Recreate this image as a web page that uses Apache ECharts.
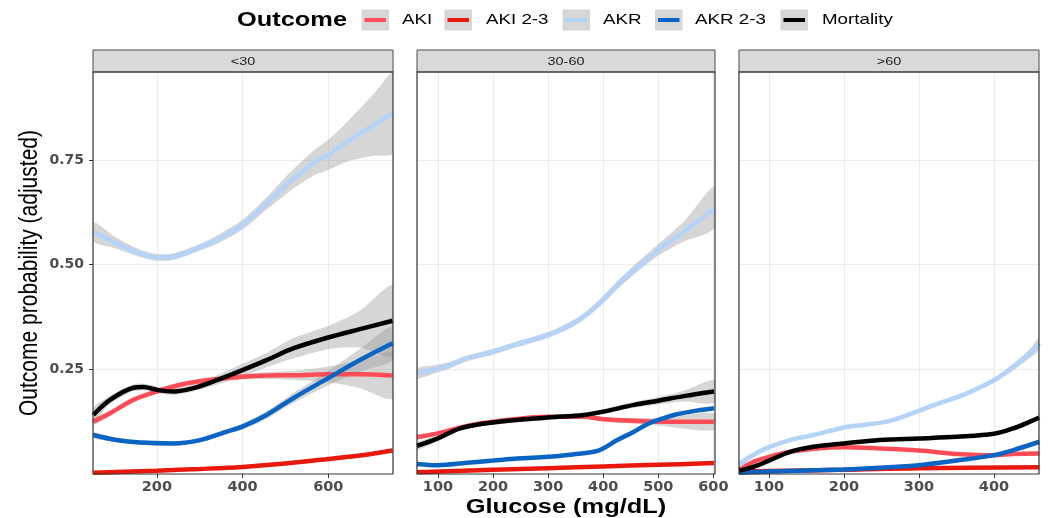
<!DOCTYPE html>
<html>
<head>
<meta charset="utf-8">
<script src="https://cdn.jsdelivr.net/npm/echarts@6/dist/echarts.min.js"></script>
<style>
html,body{margin:0;padding:0;background:#fff;}
#chart{width:1048px;height:518px;}
</style>
</head>
<body>
<div id="chart"></div>
<script>
// ---------- categories ----------
const panelNames = ['<30', '30-60', '>60'];
const outcomes = ['AKI', 'AKI 2-3', 'AKR', 'AKR 2-3', 'Mortality'];
const outcomeColors = ['#ff4d57', '#e8190c', '#b3d3f8', '#0a64c4', '#000000'];

// ---------- axes ----------
const xRange1 = [51, 751];  const xTicks1 = [200, 400, 600];
const xRange2 = [62, 603];  const xTicks2 = [100, 200, 300, 400, 500, 600];
const xRange3 = [60, 460];  const xTicks3 = [100, 200, 300, 400];
const yRange = [0, 0.96];   const yTicks = [0.25, 0.50, 0.75];

// ---------- panel <30 ----------
const p1_AKI_x  = [51.7, 90.7, 145, 199.6, 254, 316, 399.4, 456, 534, 600, 674, 750];
const p1_AKI_y  = [0.125, 0.145, 0.177, 0.197, 0.213, 0.224, 0.232, 0.235, 0.236, 0.238, 0.238, 0.235];
const p1_AKI_lo = [0.117, 0.139, 0.172, 0.192, 0.208, 0.219, 0.226, 0.227, 0.224, 0.219, 0.205, 0.180];
const p1_AKI_hi = [0.133, 0.151, 0.182, 0.202, 0.218, 0.229, 0.238, 0.243, 0.248, 0.257, 0.271, 0.290];

const p1_AKI23_x = [51.7, 200, 300, 400, 500, 600, 700, 750];
const p1_AKI23_y = [0.003, 0.008, 0.012, 0.017, 0.025, 0.036, 0.048, 0.056];

const p1_AKR_x  = [51.7, 106, 160.7, 199.6, 238.4, 285, 339.6, 399.4, 456, 510.7, 565, 600, 650.7, 705, 750];
const p1_AKR_y  = [0.579, 0.551, 0.527, 0.517, 0.519, 0.535, 0.559, 0.595, 0.646, 0.698, 0.742, 0.762, 0.798, 0.833, 0.861];
const p1_AKR_lo = [0.556, 0.538, 0.518, 0.509, 0.511, 0.527, 0.549, 0.583, 0.631, 0.676, 0.712, 0.726, 0.748, 0.760, 0.766];
const p1_AKR_hi = [0.602, 0.564, 0.536, 0.525, 0.527, 0.543, 0.569, 0.607, 0.661, 0.720, 0.772, 0.798, 0.848, 0.906, 0.957];

const p1_AKR23_x  = [51.7, 106, 160.7, 238.4, 301, 363, 399.4, 456, 518, 600, 674, 750];
const p1_AKR23_y  = [0.093, 0.081, 0.075, 0.073, 0.081, 0.101, 0.113, 0.141, 0.181, 0.229, 0.272, 0.312];
const p1_AKR23_lo = [0.086, 0.076, 0.070, 0.068, 0.076, 0.095, 0.106, 0.132, 0.169, 0.212, 0.245, 0.272];
const p1_AKR23_hi = [0.100, 0.086, 0.080, 0.078, 0.086, 0.107, 0.120, 0.150, 0.193, 0.246, 0.299, 0.352];

const p1_MORT_x  = [51.7, 90.7, 145, 168.4, 199.6, 238.4, 285, 339.6, 399.4, 456, 518, 600, 674, 750];
const p1_MORT_y  = [0.141, 0.177, 0.206, 0.208, 0.201, 0.197, 0.205, 0.224, 0.248, 0.272, 0.300, 0.326, 0.346, 0.366];
const p1_MORT_lo = [0.124, 0.167, 0.198, 0.200, 0.193, 0.189, 0.197, 0.213, 0.233, 0.255, 0.276, 0.298, 0.302, 0.282];
const p1_MORT_hi = [0.158, 0.187, 0.214, 0.216, 0.209, 0.205, 0.213, 0.235, 0.263, 0.289, 0.324, 0.354, 0.390, 0.450];

// ---------- panel 30-60 ----------
const p2_AKI_x  = [61.8, 100, 152.7, 200, 300, 364.8, 400, 455.8, 500, 601.2];
const p2_AKI_y  = [0.088, 0.097, 0.115, 0.125, 0.137, 0.137, 0.131, 0.127, 0.125, 0.125];
const p2_AKI_lo = [0.082, 0.092, 0.111, 0.121, 0.133, 0.132, 0.126, 0.120, 0.116, 0.105];
const p2_AKI_hi = [0.094, 0.102, 0.119, 0.129, 0.141, 0.142, 0.136, 0.134, 0.134, 0.145];

const p2_AKI23_x = [61.8, 200, 300, 400, 500, 601.2];
const p2_AKI23_y = [0.004, 0.010, 0.014, 0.018, 0.022, 0.026];

const p2_AKR_x  = [61.8, 100, 122, 152.7, 200, 243.6, 300, 334.5, 364.8, 400, 425.5, 455.8, 500, 546.7, 601.2];
const p2_AKR_y  = [0.240, 0.252, 0.260, 0.276, 0.292, 0.310, 0.332, 0.352, 0.376, 0.416, 0.451, 0.487, 0.535, 0.579, 0.634];
const p2_AKR_lo = [0.228, 0.243, 0.252, 0.269, 0.285, 0.303, 0.325, 0.344, 0.368, 0.407, 0.441, 0.476, 0.521, 0.555, 0.587];
const p2_AKR_hi = [0.252, 0.261, 0.268, 0.283, 0.299, 0.317, 0.339, 0.360, 0.384, 0.425, 0.461, 0.498, 0.549, 0.603, 0.686];

const p2_AKR23_x = [61.8, 100, 152.7, 200, 243.6, 300, 346.7, 383, 400, 425.5, 455.8, 480, 500, 528.5, 558.8, 601.2];
const p2_AKR23_y = [0.024, 0.021, 0.027, 0.032, 0.037, 0.041, 0.047, 0.053, 0.061, 0.081, 0.101, 0.119, 0.129, 0.141, 0.149, 0.157];

const p2_MORT_x  = [61.8, 100, 140.6, 200, 300, 364.8, 400, 455.8, 500, 546.7, 601.2];
const p2_MORT_y  = [0.067, 0.085, 0.109, 0.123, 0.135, 0.141, 0.149, 0.165, 0.175, 0.186, 0.197];
const p2_MORT_lo = [0.058, 0.079, 0.104, 0.118, 0.130, 0.136, 0.143, 0.158, 0.166, 0.173, 0.170];
const p2_MORT_hi = [0.076, 0.091, 0.114, 0.128, 0.140, 0.146, 0.155, 0.172, 0.184, 0.199, 0.224];

// ---------- panel >60 ----------
const p3_AKI_x = [60.4, 79.1, 100, 128, 163.6, 200, 248, 300, 350.2, 400, 425.8, 460.4];
const p3_AKI_y = [0.010, 0.029, 0.041, 0.053, 0.061, 0.064, 0.061, 0.056, 0.048, 0.045, 0.048, 0.049];

const p3_AKI23_x = [60.4, 200, 300, 460.4];
const p3_AKI23_y = [0.006, 0.010, 0.014, 0.016];

const p3_AKR_x  = [60.4, 74.7, 100, 128, 159, 200, 225.8, 256.9, 279, 300, 323.6, 359, 400, 425.8, 448, 460.4];
const p3_AKR_y  = [0.021, 0.041, 0.064, 0.081, 0.093, 0.111, 0.117, 0.125, 0.137, 0.151, 0.167, 0.189, 0.224, 0.256, 0.288, 0.312];
const p3_AKR_lo = [0.012, 0.035, 0.059, 0.077, 0.089, 0.107, 0.113, 0.121, 0.133, 0.146, 0.162, 0.184, 0.218, 0.248, 0.277, 0.297];
const p3_AKR_hi = [0.030, 0.047, 0.069, 0.085, 0.097, 0.115, 0.121, 0.129, 0.141, 0.156, 0.172, 0.194, 0.230, 0.264, 0.299, 0.327];

const p3_AKR23_x = [60.4, 100, 200, 248, 300, 350.2, 400, 425.8, 460.4];
const p3_AKR23_y = [0.003, 0.006, 0.011, 0.015, 0.021, 0.032, 0.045, 0.057, 0.077];

const p3_MORT_x = [60.4, 79.1, 100, 128, 159, 200, 248, 300, 350.2, 400, 425.8, 448, 460.4];
const p3_MORT_y = [0.008, 0.017, 0.032, 0.053, 0.065, 0.073, 0.081, 0.085, 0.089, 0.096, 0.109, 0.125, 0.135];

// ---------- assemble ----------
const panelData = [
  [
    {x: p1_AKI_x, y: p1_AKI_y, lo: p1_AKI_lo, hi: p1_AKI_hi},
    {x: p1_AKI23_x, y: p1_AKI23_y},
    {x: p1_AKR_x, y: p1_AKR_y, lo: p1_AKR_lo, hi: p1_AKR_hi},
    {x: p1_AKR23_x, y: p1_AKR23_y, lo: p1_AKR23_lo, hi: p1_AKR23_hi},
    {x: p1_MORT_x, y: p1_MORT_y, lo: p1_MORT_lo, hi: p1_MORT_hi}
  ],
  [
    {x: p2_AKI_x, y: p2_AKI_y, lo: p2_AKI_lo, hi: p2_AKI_hi},
    {x: p2_AKI23_x, y: p2_AKI23_y},
    {x: p2_AKR_x, y: p2_AKR_y, lo: p2_AKR_lo, hi: p2_AKR_hi},
    {x: p2_AKR23_x, y: p2_AKR23_y},
    {x: p2_MORT_x, y: p2_MORT_y, lo: p2_MORT_lo, hi: p2_MORT_hi}
  ],
  [
    {x: p3_AKI_x, y: p3_AKI_y},
    {x: p3_AKI23_x, y: p3_AKI23_y},
    {x: p3_AKR_x, y: p3_AKR_y, lo: p3_AKR_lo, hi: p3_AKR_hi},
    {x: p3_AKR23_x, y: p3_AKR23_y},
    {x: p3_MORT_x, y: p3_MORT_y}
  ]
];
const xRanges = [xRange1, xRange2, xRange3];
const xTicks = [xTicks1, xTicks2, xTicks3];

// layout (pixels)
const grids = [
  {left: 93, top: 72, width: 300, height: 402},
  {left: 417, top: 72, width: 298, height: 402},
  {left: 739, top: 72, width: 300, height: 402}
];
const stripTop = 50, stripH = 22;
const tickFont = 'DejaVu Sans';
const tickColor = '#4d4d4d';
const ribbonFill = 'rgba(153,153,153,0.4)';

const chart = echarts.init(document.getElementById('chart'), null, {renderer: 'canvas'});

const xAxes = [], yAxes = [], series = [];
grids.forEach((g, i) => {
  xAxes.push({
    type: 'value', gridIndex: i, min: xRanges[i][0], max: xRanges[i][1],
    axisLine: {show: false},
    axisTick: {show: true, length: 4, lineStyle: {color: '#333', width: 1}, customValues: xTicks[i]},
    axisLabel: {show: true, customValues: xTicks[i], margin: 6, color: tickColor,
      fontFamily: tickFont, fontWeight: 'bold', fontSize: 14.5},
    splitLine: {show: true, lineStyle: {color: '#ebebeb', width: 1}}
  });
  yAxes.push({
    type: 'value', gridIndex: i, min: yRange[0], max: yRange[1],
    axisLine: {show: false},
    axisTick: {show: i === 0, length: 4, lineStyle: {color: '#333', width: 1}, customValues: yTicks},
    axisLabel: {show: i === 0, customValues: yTicks, margin: 9, color: tickColor,
      fontFamily: tickFont, fontWeight: 'bold', fontSize: 14,
      formatter: v => v.toFixed(2)},
    splitLine: {show: true, lineStyle: {color: '#ebebeb', width: 1}}
  });
  panelData[i].forEach((d, k) => {
    if (d.lo && d.hi) {
      const xs = d.x, lo = d.lo, hi = d.hi;
      series.push({
        type: 'custom', name: outcomes[k], xAxisIndex: i, yAxisIndex: i,
        silent: true, clip: true, z: 2,
        data: xs.map((v, j) => [v, lo[j], hi[j]]),
        encode: {x: 0, y: [1, 2]},
        renderItem: function (params, api) {
          if (params.dataIndex !== 0) return null;
          const pts = [];
          for (let j = 0; j < xs.length; j++) pts.push(api.coord([xs[j], hi[j]]));
          for (let j = xs.length - 1; j >= 0; j--) pts.push(api.coord([xs[j], lo[j]]));
          return {type: 'polygon', shape: {points: pts, smooth: 0.25}, style: {fill: ribbonFill}};
        }
      });
    }
    series.push({
      type: 'line', name: outcomes[k], xAxisIndex: i, yAxisIndex: i, z: 2,
      data: d.x.map((v, j) => [v, d.y[j]]),
      showSymbol: false, symbol: 'none', smooth: 0.35, silent: true,
      lineStyle: {color: outcomeColors[k], width: 4.5, cap: 'butt'},
      itemStyle: {color: outcomeColors[k]}
    });
  });
});

// graphics: strips, legend, axis titles
const graphics = [];
grids.forEach((g, i) => {
  graphics.push({type: 'rect', silent: true, z: 100,
    shape: {x: g.left, y: stripTop, width: g.width, height: stripH},
    style: {fill: '#d9d9d9', stroke: '#4d4d4d', lineWidth: 1}});
  graphics.push({type: 'text', silent: true, z: 101, x: g.left + g.width / 2, y: stripTop + stripH / 2 + 0.5,
    scaleX: 1.25,
    style: {text: panelNames[i], font: '11.5px "Liberation Sans", Arial, sans-serif', fill: '#1a1a1a',
      align: 'center', verticalAlign: 'middle'}});
  graphics.push({type: 'rect', silent: true, z: 100,
    shape: {x: g.left, y: g.top, width: g.width, height: g.height},
    style: {fill: 'none', stroke: '#333333', lineWidth: 1.2}});
});

// legend
graphics.push({type: 'text', silent: true, x: 237, y: 20, scaleX: 1.27,
  style: {text: 'Outcome', font: 'bold 20px "Liberation Sans", Arial, sans-serif', fill: '#000',
    align: 'left', verticalAlign: 'middle'}});
const keyX = [361.5, 444.5, 562.5, 655, 780.5];
const labelX = [402, 486, 603, 695, 822];
outcomes.forEach((name, k) => {
  graphics.push({type: 'rect', silent: true, shape: {x: keyX[k], y: 9.5, width: 27.5, height: 21},
    style: {fill: '#d6d6d6'}});
  graphics.push({type: 'line', silent: true, shape: {x1: keyX[k] + 3, y1: 20, x2: keyX[k] + 24.5, y2: 20},
    style: {stroke: outcomeColors[k], lineWidth: 4}});
  graphics.push({type: 'text', silent: true, x: labelX[k], y: 20, scaleX: 1.25,
    style: {text: name, font: '15px "Liberation Sans", Arial, sans-serif', fill: '#000',
      align: 'left', verticalAlign: 'middle'}});
});

// axis titles
graphics.push({type: 'text', silent: true, x: 30, y: 273, rotation: Math.PI / 2, scaleY: 1.25,
  style: {text: 'Outcome probability (adjusted)', font: '21px "Liberation Sans", Arial, sans-serif',
    fill: '#000', align: 'center', verticalAlign: 'middle'}});
graphics.push({type: 'text', silent: true, x: 566, y: 507, scaleX: 1.27,
  style: {text: 'Glucose (mg/dL)', font: 'bold 20px "Liberation Sans", Arial, sans-serif',
    fill: '#000', align: 'center', verticalAlign: 'middle'}});

chart.setOption({
  animation: false,
  backgroundColor: '#ffffff',
  grid: grids.map(g => Object.assign({show: true, backgroundColor: '#fff', borderWidth: 0}, g)),
  xAxis: xAxes,
  yAxis: yAxes,
  series: series,
  graphic: {elements: graphics}
});
</script>
</body>
</html>
